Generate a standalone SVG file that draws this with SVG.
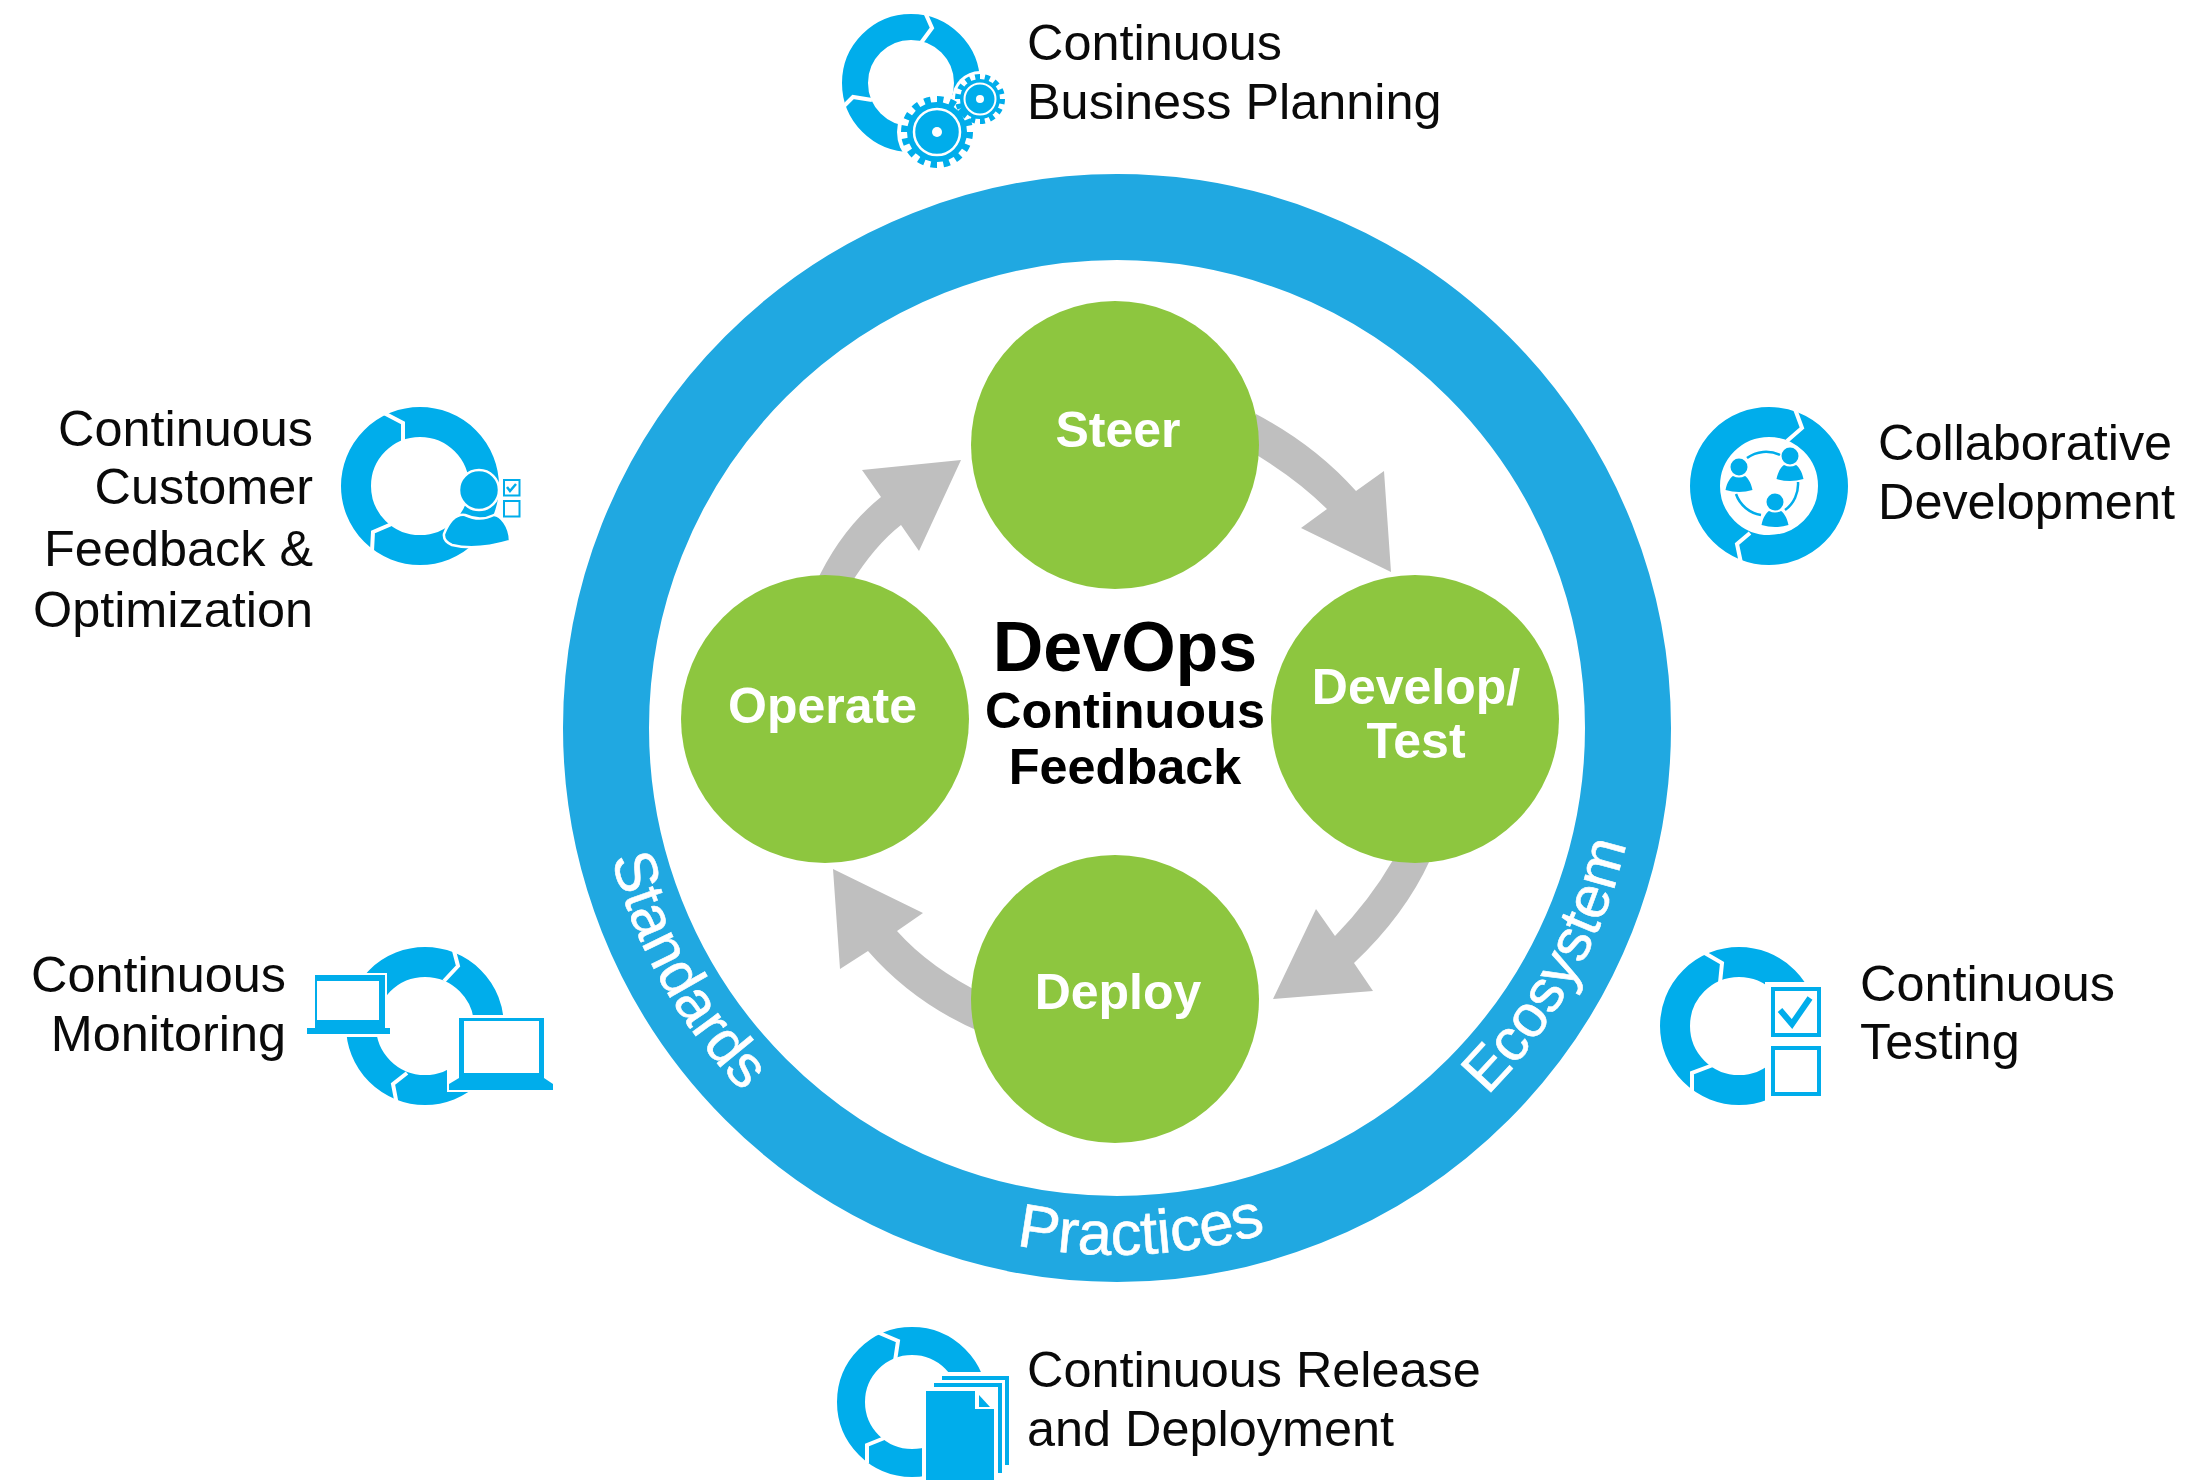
<svg xmlns="http://www.w3.org/2000/svg" width="2192" height="1480" viewBox="0 0 2192 1480">
<style>
text{font-family:"Liberation Sans",Arial,sans-serif;}
.lbl{font-size:50.4px;fill:#0a0a0a;}
.end{text-anchor:end;}
.step{font-size:50px;font-weight:bold;fill:#fff;text-anchor:middle;}
.ctr{font-weight:bold;fill:#000;text-anchor:middle;}
.curve{font-size:59.5px;fill:#fff;stroke:#fff;stroke-width:.6;text-anchor:middle;}
.wide{font-size:61.5px;}
.ic{fill:#00ADEB;}
.ring{fill:none;stroke:#00ADEB;}
.sep{fill:none;stroke:#fff;stroke-width:4;}
.w{fill:#fff;}
.gn{fill:#8DC63F;}
.ar{fill:#BFBFBF;}
.hl{fill:#00ADEB;stroke:#fff;stroke-width:2.5;}
.box{fill:#fff;stroke:#00ADEB;}
</style>
<defs>
<path id="arcSide" d="M595,728 A522,522 0 0 0 1639,728"/>
<path id="arcBottom" d="M590,728 A527,527 0 0 0 1644,728"/>
<path id="body3" d="M-13.5,14 C-12,6 -8,1 -6,0 Q0,3 6,0 C8,1 12,6 13.5,14 Q0,18 -13.5,14 Z"/>
</defs>
<rect width="2192" height="1480" fill="#fff"/>

<g id="ecosystem-ring">
<circle cx="1117" cy="728" r="511" fill="none" stroke="#20A8E1" stroke-width="86"/>
<text class="curve"><textPath href="#arcSide" startOffset="16.3%">Standards</textPath></text>
<text class="curve wide"><textPath href="#arcBottom" startOffset="51.5%">Practices</textPath></text>
<text class="curve"><textPath href="#arcSide" startOffset="84%">Ecosystem</textPath></text>
</g>

<g id="connectors">
<path class="ar" d="M1256,414 Q1315,445 1356,491 L1384,471 L1391,572 L1301,528 L1327,509 Q1295,477 1245,448 Z"/>
<path class="ar" d="M1393,860 Q1370,900 1335,936 L1316,909 L1273,999 L1373,991 L1354,963 Q1405,915 1430,860 Z"/>
<path class="ar" d="M833,869 L923,913 L897,931 Q930,968 985,995 L985,1034 Q915,1005 868,951 L840,969 Z"/>
<path class="ar" d="M815,585 Q840,530 881,497 L862,470 L961,460 L919,551 L901,525 Q875,545 850,585 Z"/>
</g>

<g id="steer"><circle class="gn" cx="1115" cy="445" r="144"/><text class="step" x="1118" y="447">Steer</text></g>
<g id="develop-test"><circle class="gn" cx="1415" cy="719" r="144"/><text class="step" x="1416" y="704">Develop/</text><text class="step" x="1416" y="758">Test</text></g>
<g id="deploy"><circle class="gn" cx="1115" cy="999" r="144"/><text class="step" x="1118" y="1009">Deploy</text></g>
<g id="operate"><circle class="gn" cx="825" cy="719" r="144"/><text class="step" x="822.500" y="723">Operate</text></g>

<g id="center">
<text class="ctr" x="1125" y="671" font-size="70">DevOps</text>
<text class="ctr" x="1125" y="728" font-size="50.4">Continuous</text>
<text class="ctr" x="1125" y="784" font-size="50.4">Feedback</text>
</g>

<g id="business-planning">
<circle class="ring" cx="911" cy="83" r="56" stroke-width="26"/>
<polyline class="sep" points="924,10 932,28 918,47"/>
<polyline class="sep" points="841,109 853,97 872,100"/>
<circle class="w" cx="937" cy="132" r="40"/><circle class="w" cx="980" cy="99" r="28"/>
<circle class="ic" cx="937" cy="132" r="30"/>
<circle cx="937" cy="132" r="32" fill="none" stroke="#00ADEB" stroke-width="8" pathLength="32" stroke-dasharray="1 1"/>
<circle cx="937" cy="132" r="23" fill="none" stroke="#fff" stroke-width="2.5"/><circle class="w" cx="937" cy="132" r="5"/>
<circle class="ic" cx="980" cy="99" r="20"/>
<circle cx="980" cy="99" r="22" fill="none" stroke="#00ADEB" stroke-width="6" pathLength="28" stroke-dasharray="1 1"/>
<circle cx="980" cy="99" r="15.5" fill="none" stroke="#fff" stroke-width="2"/><circle class="w" cx="980" cy="99" r="4"/>
<text class="lbl" x="1027" y="60">Continuous</text>
<text class="lbl" x="1027" y="119">Business Planning</text>
</g>

<g id="customer-feedback">
<circle class="ring" cx="420" cy="486" r="64" stroke-width="30"/>
<polyline class="sep" points="382,412 403,423 403,443"/>
<polyline class="sep" points="372,551 373,532 394,523"/>
<circle class="hl" cx="479" cy="490" r="20"/>
<path class="hl" d="M444,534 C450,519 458,514 465,515 Q480,522 494,515 C500,515 510,526 510,541 Q476,551 452,545 Q443,541 444,534 Z"/>
<rect class="box" x="504" y="480" width="15.500" height="15.500" stroke-width="2"/>
<polyline points="507,487 510,491 516,484" fill="none" stroke="#00ADEB" stroke-width="2.500"/>
<rect class="box" x="504" y="501" width="15.500" height="15.500" stroke-width="2"/>
<text class="lbl end" x="313" y="446">Continuous</text>
<text class="lbl end" x="313" y="504">Customer</text>
<text class="lbl end" x="313" y="566">Feedback &amp;</text>
<text class="lbl end" x="313" y="627">Optimization</text>
</g>

<g id="collaborative-development">
<circle class="ring" cx="1769" cy="486" r="64" stroke-width="30"/>
<polyline class="sep" points="1795,409 1802,428 1787,441"/>
<polyline class="sep" points="1741,563 1737,544 1750,533"/>
<g fill="none" stroke="#00ADEB" stroke-width="2.500">
<path d="M1747,458 A32,32 0 0 1 1780,455"/>
<path d="M1736,494 A32,32 0 0 0 1761,515"/>
<path d="M1798,482 A32,32 0 0 1 1785,510"/>
</g>
<circle class="ic" cx="1739" cy="467" r="8.500"/><use href="#body3" class="ic" x="1739" y="476"/>
<circle class="ic" cx="1790" cy="456" r="8.500"/><use href="#body3" class="ic" x="1790" y="465"/>
<circle class="ic" cx="1775" cy="502" r="8.500"/><use href="#body3" class="ic" x="1775" y="511"/>
<text class="lbl" x="1878" y="460">Collaborative</text>
<text class="lbl" x="1878" y="519">Development</text>
</g>

<g id="continuous-monitoring">
<circle class="ring" cx="425" cy="1026" r="64" stroke-width="30"/>
<polyline class="sep" points="453,947 458,966 444,981"/>
<polyline class="sep" points="397,1105 393,1084 407,1073"/>
<rect class="w" x="307" y="973" width="80" height="64"/>
<rect class="w" x="447" y="1015" width="106" height="77"/>
<rect class="ic" x="315" y="975" width="70" height="53"/><rect class="w" x="317" y="981" width="62" height="39"/>
<rect class="ic" x="307" y="1028" width="83" height="6"/>
<rect class="ic" x="459" y="1018" width="85" height="62"/><rect class="w" x="464" y="1021" width="75" height="52"/>
<path class="ic" d="M449,1090 H553 V1084 L544,1078 H459 L449,1084 Z"/>
<text class="lbl end" x="286" y="992">Continuous</text>
<text class="lbl end" x="286" y="1051">Monitoring</text>
</g>

<g id="continuous-testing">
<circle class="ring" cx="1739" cy="1026" r="64" stroke-width="30"/>
<polyline class="sep" points="1703,952 1722,963 1720,983"/>
<polyline class="sep" points="1692,1091 1692,1073 1713,1065"/>
<rect class="w" x="1765" y="982" width="70" height="120"/>
<rect class="box" x="1773" y="989" width="46" height="46" stroke-width="4"/>
<rect class="box" x="1773" y="1048" width="46" height="46" stroke-width="4"/>
<polyline points="1780,1010 1792,1024 1810,998" fill="none" stroke="#00ADEB" stroke-width="6"/>
<text class="lbl" x="1860" y="1000.500">Continuous</text>
<text class="lbl" x="1860" y="1059">Testing</text>
</g>

<g id="release-deployment">
<circle class="ring" cx="912" cy="1402" r="61" stroke-width="28"/>
<polyline class="sep" points="877,1332 898,1341 895,1361"/>
<polyline class="sep" points="867,1463 867,1445 887,1437"/>
<rect class="w" x="922" y="1372" width="90" height="108"/>
<path class="ic" d="M942,1376 H1009 V1465 H1005 V1380 H942 Z"/>
<path class="ic" d="M934,1383 H1002 V1473 H998 V1387 H934 Z"/>
<path class="ic" d="M926,1391 H975 V1409 H994 V1480 H926 Z"/>
<path class="ic" d="M979,1395 L990,1407 H979 Z"/>
<text class="lbl" x="1027" y="1387">Continuous Release</text>
<text class="lbl" x="1027" y="1446">and Deployment</text>
</g>
</svg>
